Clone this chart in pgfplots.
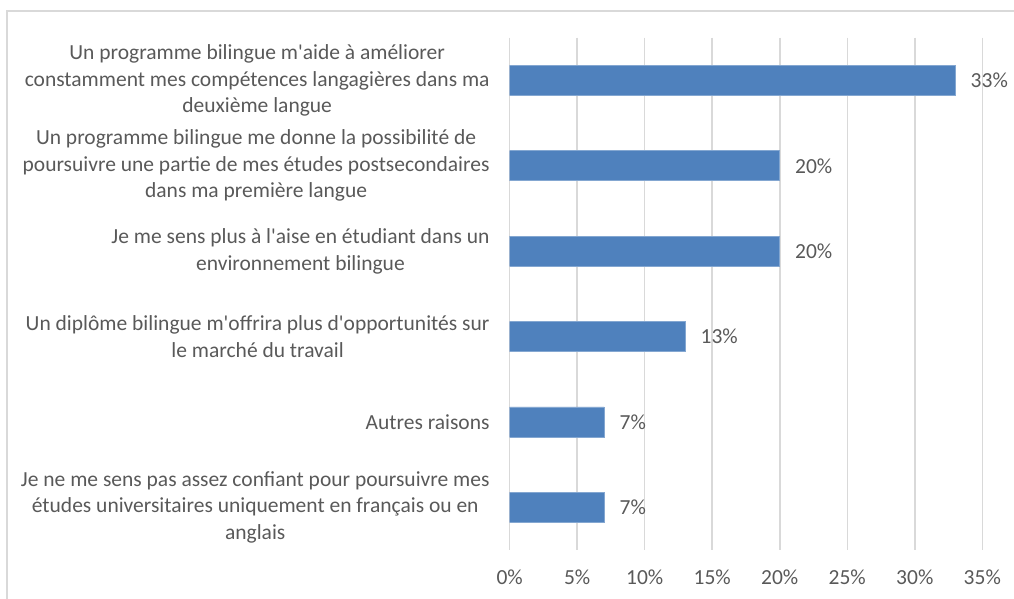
\documentclass[border=0pt]{standalone}
\usepackage{pgfplots}
\pgfplotsset{compat=1.18}
\usepackage{fontspec}
\setmainfont{Carlito}
\definecolor{txt}{HTML}{595959}
\definecolor{barblue}{HTML}{4F81BD}
\definecolor{gridgray}{HTML}{D9D9D9}
\newcommand{\q}{\textquotesingle}
\newcommand{\lblfont}{\fontsize{21.5}{26.5}\selectfont}

\begin{document}
\begin{tikzpicture}[x=1pt,y=1pt]
\useasboundingbox (0,0) rectangle (1014,598);
% chart frame (cut off at right and bottom)
\draw[gridgray, line width=1.2pt] (7,-5) -- (7,587) -- (1020,587);
\begin{axis}[
  at={(509.7pt,48pt)}, anchor=south west,
  scale only axis, width=472.6pt, height=512.3pt,
  xbar, bar width=30pt,
  xmin=0, xmax=35, ymin=-0.5, ymax=5.5, y dir=reverse,
  axis line style={draw=none},
  xtick={0,5,...,35},
  xticklabels={0\%,5\%,10\%,15\%,20\%,25\%,30\%,35\%},
  ytick={0,...,5},
  yticklabels={
    {Un programme bilingue m\q aide à améliorer\\constamment mes compétences langagières dans ma\\deuxième langue},
    {Un programme bilingue me donne la possibilité de\\poursuivre une partie de mes études postsecondaires\\dans ma première langue},
    {Je me sens plus à l\q aise en étudiant dans un\\environnement bilingue},
    {Un diplôme bilingue m\q offrira plus d\q opportunités sur\\le marché du travail},
    {Autres raisons},
    {Je ne me sens pas assez confiant pour poursuivre mes\\études universitaires uniquement en français ou en\\anglais}},
  major tick length=0pt,
  xmajorgrids, major grid style={gridgray, line width=1.5pt},
  tick label style={font=\lblfont, text=txt, inner sep=0pt},
  xticklabel style={yshift=-20pt},
  yticklabel style={align=center, xshift=-20pt},
  point meta=x,
  nodes near coords={\pgfmathprintnumber[assume math mode=true]{\pgfplotspointmeta}\%},
  nodes near coords style={font=\lblfont, text=txt,
    anchor=west, inner sep=0pt, xshift=15pt},
]
\addplot[fill=barblue, draw=barblue!70!white, line width=0.8pt]
  coordinates {(33,0) (20,1) (20,2) (13,3) (7,4) (7,5)};
\end{axis}
\end{tikzpicture}
\end{document}
